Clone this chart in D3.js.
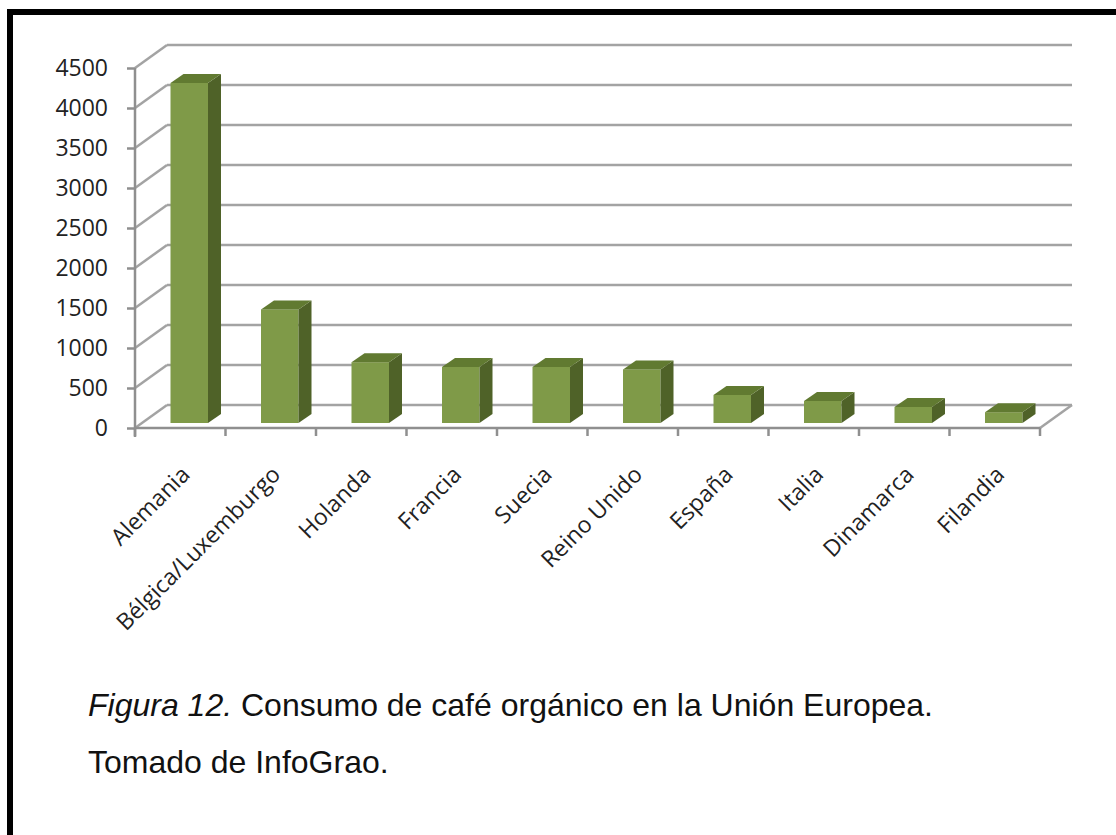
<!DOCTYPE html>
<html>
<head>
<meta charset="utf-8">
<script src="https://cdn.jsdelivr.net/npm/d3@7"></script>
<style>
  html, body { margin: 0; padding: 0; background: #fff; }
  svg { display: block; }
</style>
</head>
<body>
<svg id="chart" width="1116" height="835"></svg>
<script>
// ---- data ----
const categories = ["Alemania", "Bélgica/Luxemburgo", "Holanda", "Francia", "Suecia",
                    "Reino Unido", "España", "Italia", "Dinamarca", "Filandia"];
const values = [4250, 1420, 760, 700, 700, 670, 350, 275, 200, 135];
const yTicks = [0, 500, 1000, 1500, 2000, 2500, 3000, 3500, 4000, 4500];
const captionItalic = "Figura 12.";
const captionRest = " Consumo de café orgánico en la Unión Europea.";
const captionLine2 = "Tomado de InfoGrao.";

// ---- layout ----
const svg = d3.select("#chart");
const W = 1116, H = 835;
const DX = 32, DY = -23;           // depth of the 3D floor
const BDX = 13, BDY = -9;          // depth of each column
const gridColor = "#a3a3a3";
const labelFont = "'Open Sans', sans-serif";

const x = d3.scaleBand().domain(categories).range([135, 1040]).padding(0);
const y = d3.scaleLinear().domain([0, 4500]).range([428, 68]);

// frame
svg.append("rect").attr("x", 7).attr("y", 9).attr("width", W).attr("height", 6).attr("fill", "#000");
svg.append("rect").attr("x", 7).attr("y", 9).attr("width", 6).attr("height", H).attr("fill", "#000");

const g = svg.append("g");

// back wall gridlines
g.selectAll("line.grid").data(yTicks).join("line")
  .attr("class", "grid")
  .attr("x1", 135 + DX).attr("x2", 1040 + DX)
  .attr("y1", d => y(d) + DY).attr("y2", d => y(d) + DY)
  .attr("stroke", gridColor).attr("stroke-width", 2.5);

// side wall diagonals
g.selectAll("line.diag").data(yTicks).join("line")
  .attr("class", "diag")
  .attr("x1", 135).attr("x2", 135 + DX)
  .attr("y1", d => y(d)).attr("y2", d => y(d) + DY)
  .attr("stroke", gridColor).attr("stroke-width", 2.5);

// floor right edge
g.append("line")
  .attr("x1", 1040).attr("y1", y(0)).attr("x2", 1040 + DX).attr("y2", y(0) + DY)
  .attr("stroke", gridColor).attr("stroke-width", 2.5);

// y axis
const yAxis = d3.axisLeft(y).tickValues(yTicks).tickSize(8).tickPadding(19).tickFormat(d3.format("d"));
const yg = g.append("g").attr("transform", "translate(135,0)").call(yAxis);
yg.select(".domain").remove();
yg.selectAll(".tick line").attr("stroke", "#8f8f8f").attr("stroke-width", 2.5);
yg.selectAll(".tick text")
  .attr("font-family", labelFont).attr("font-size", 23).attr("fill", "#222");
g.append("line").attr("x1", 135).attr("x2", 135).attr("y1", 68).attr("y2", 437)
  .attr("stroke", "#8f8f8f").attr("stroke-width", 2.5);

// x axis (front floor edge)
g.append("line").attr("x1", 135).attr("x2", 1040).attr("y1", y(0)).attr("y2", y(0))
  .attr("stroke", "#8f8f8f").attr("stroke-width", 2.5);
const xTickPos = categories.map(c => x(c)).concat([x.range()[1]]);
g.selectAll("line.xt").data(xTickPos).join("line")
  .attr("class", "xt")
  .attr("x1", d => d).attr("x2", d => d)
  .attr("y1", y(0)).attr("y2", y(0) + 8)
  .attr("stroke", "#8f8f8f").attr("stroke-width", 2.5);

// x labels
g.selectAll("text.xl").data(categories).join("text")
  .attr("class", "xl")
  .attr("transform", d => `translate(${x(d) + x.bandwidth() / 2 + 11},476) rotate(-45)`)
  .attr("text-anchor", "end")
  .attr("font-family", labelFont).attr("font-size", 23).attr("fill", "#222")
  .text(d => d);

// 3D columns
const off = 35.5, bw = 37.5, lift = -5;
const bars = g.selectAll("g.bar").data(categories.map((c, i) => ({ c, v: values[i] }))).join("g").attr("class", "bar");
bars.each(function (d) {
  const sel = d3.select(this);
  const x0 = x(d.c) + off, x1 = x0 + bw;
  const yb = y(0) + lift, yt = y(d.v) + lift;
  sel.append("rect").attr("x", x0).attr("y", yt).attr("width", bw).attr("height", yb - yt)
    .attr("fill", "#7f9a48");
  sel.append("polygon")
    .attr("points", [[x1, yt], [x1 + BDX, yt + BDY], [x1 + BDX, yb + BDY], [x1, yb]].join(" "))
    .attr("fill", "#4f6228");
  sel.append("polygon")
    .attr("points", [[x0, yt], [x0 + BDX, yt + BDY], [x1 + BDX, yt + BDY], [x1, yt]].join(" "))
    .attr("fill", "#617a31");
});

// caption
const cap = svg.append("text").attr("x", 88).attr("y", 716)
  .attr("font-family", "'Liberation Sans', Arial, sans-serif").attr("font-size", 32).attr("fill", "#111");
cap.append("tspan").attr("font-style", "italic").text(captionItalic);
cap.append("tspan").text(captionRest);
svg.append("text").attr("x", 88).attr("y", 773)
  .attr("font-family", "'Liberation Sans', Arial, sans-serif").attr("font-size", 32).attr("fill", "#111")
  .text(captionLine2);
</script>
</body>
</html>
